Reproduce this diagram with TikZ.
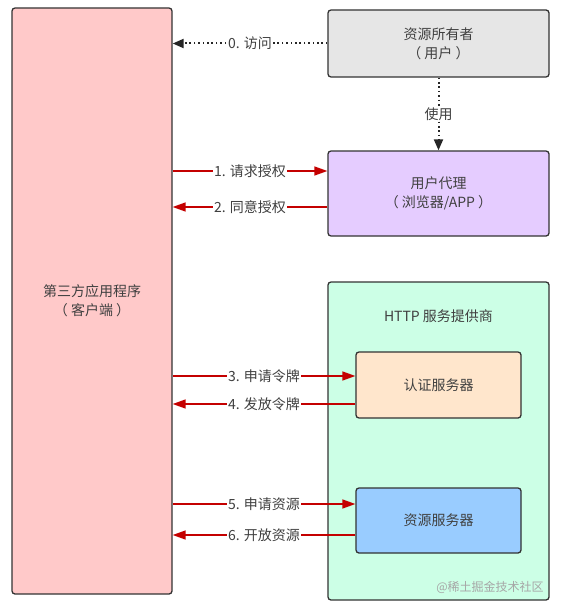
\documentclass[tikz,border=0pt]{standalone}
\usepackage{fontspec}
\setmainfont{Noto Sans CJK SC}
\usetikzlibrary{arrows.meta}
\definecolor{clientfill}{HTML}{FFC9C9}
\definecolor{ownerfill}{HTML}{E6E6E6}
\definecolor{agentfill}{HTML}{E5CCFF}
\definecolor{providerfill}{HTML}{CCFFE6}
\definecolor{authfill}{HTML}{FFE6CC}
\definecolor{resfill}{HTML}{99CCFF}
\definecolor{reqred}{HTML}{C40000}
\begin{document}
\begin{tikzpicture}[x=1pt, y=-1pt, >={Triangle[length=13pt,width=9pt]},
        box/.style={draw=black!80, line width=1.3pt, rounded corners=3pt, align=center,
                    text=black!75, inner sep=0pt, font=\fontsize{14}{19}\selectfont},
        req/.style={draw=reqred, line width=1.4pt},
        use/.style={draw=black!85, line width=2pt, dash pattern=on 1.6pt off 2.8pt},
        lbl/.style={fill=white, inner sep=1pt, text=black!75, font=\fontsize{14}{16}\selectfont}]
        \useasboundingbox (0,0) rectangle (560,610);

        % boxes
        \node[box, fill=clientfill, minimum width=160pt, minimum height=586pt] (client) at (92,301) {第三方应用程序\\（ 客户端 ）};
        \node[box, fill=ownerfill, minimum width=221pt, minimum height=67pt] (owner) at (438.5,43.5) {资源所有者\\（ 用户 ）};
        \node[box, fill=agentfill, minimum width=221pt, minimum height=85pt] (agent) at (438.5,193.5) {用户代理\\（ 浏览器/APP ）};
        \node[box, fill=providerfill, minimum width=221pt, minimum height=318pt] (provider) at (438.5,441) {};
        \node[text=black!75, font=\fontsize{14}{16}\selectfont] (title) at (438.5,316) {HTTP 服务提供商};
        \node[box, fill=authfill, minimum width=165pt, minimum height=66pt] (auth) at (438.5,385) {认证服务器};
        \node[box, fill=resfill, minimum width=165pt, minimum height=65pt] (res) at (438.5,520.5) {资源服务器};

        % owner
        \draw[use, ->, >={Triangle[length=11pt,width=9pt]}] (owner.west) -- node[lbl] {0. 访问} (client.east |- owner.west);
        \draw[use, ->, >={Triangle[length=11pt,width=9pt]}] (owner.south) -- node[lbl] {使用} (agent.north);

        % requests
        \draw[req, ->] (client.east |- 0,171) -- node[lbl] {1. 请求授权} (agent.west |- 0,171);
        \draw[req, ->] (agent.west |- 0,207) -- node[lbl] {2. 同意授权} (client.east |- 0,207);
        \draw[req, ->] (client.east |- 0,376) -- node[lbl] {3. 申请令牌} (auth.west |- 0,376);
        \draw[req, ->] (auth.west |- 0,404) -- node[lbl] {4. 发放令牌} (client.east |- 0,404);
        \draw[req, ->] (client.east |- 0,504) -- node[lbl] {5. 申请资源} (res.west |- 0,504);
        \draw[req, ->] (res.west |- 0,535) -- node[lbl] {6. 开放资源} (client.east |- 0,535);

        \node[text=black!35, font=\fontsize{12}{14}\selectfont] (mark) at (490,587) {@稀土掘金技术社区};
\end{tikzpicture}
\end{document}
